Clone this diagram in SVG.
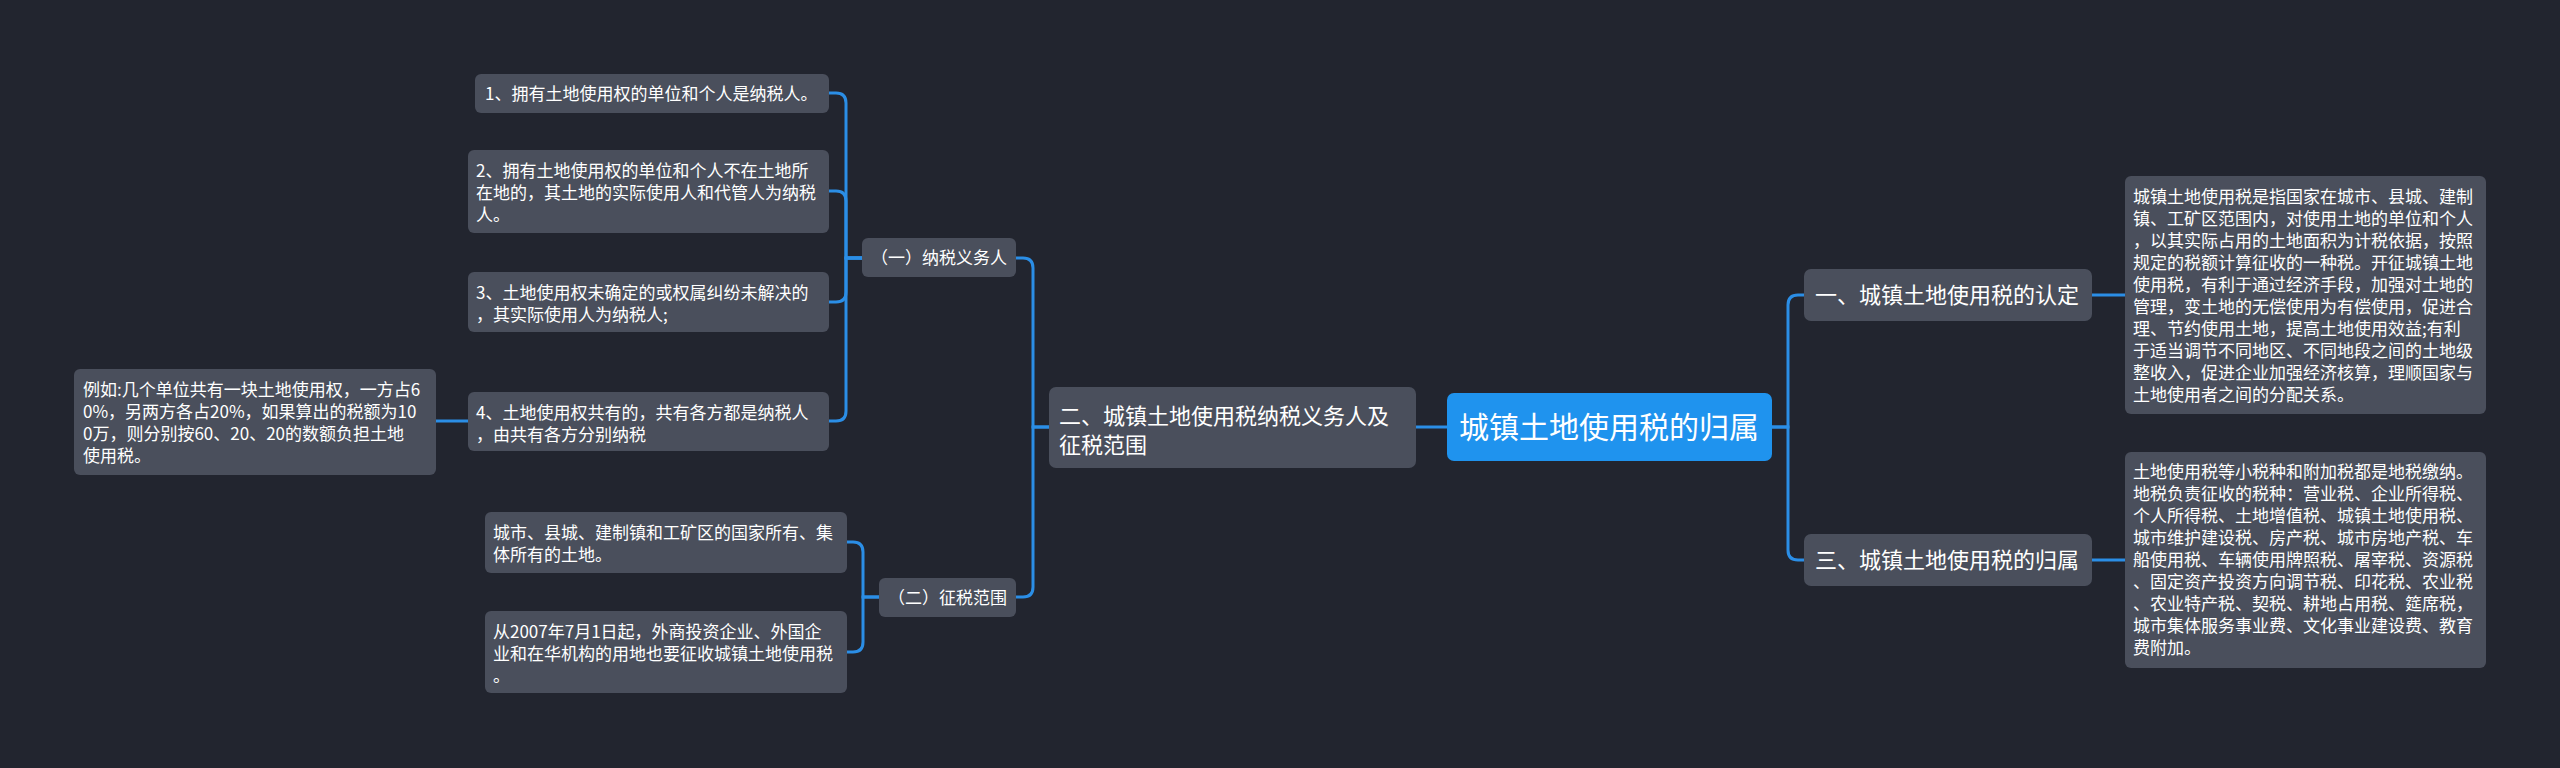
<svg xmlns="http://www.w3.org/2000/svg" width="2560" height="768" viewBox="0 0 2560 768">
<style>
.bg{fill:#22252f}
.n rect{fill:#4a4f5c}
.n text{fill:#ffffff;font-family:"Noto Sans CJK SC","Noto Sans",sans-serif;font-size:17px}
.n text.m{font-size:22px}
.r rect{fill:#1f93ee}
.r text{fill:#ffffff;font-family:"Noto Sans CJK SC","Noto Sans",sans-serif;font-size:30px}
.c path{fill:none;stroke:#2b8ee6;stroke-width:3;stroke-linecap:round}
</style>
<rect class="bg" x="0" y="0" width="2560" height="768"/>
<g class="c" id="connectors">
<path d="M862,258 H846 V103 Q846,93 836,93 H829"/>
<path d="M862,258 H846 V201 Q846,191 836,191 H829"/>
<path d="M862,258 H846 V292 Q846,302 836,302 H829"/>
<path d="M862,258 H846 V411 Q846,421 836,421 H829"/>
<path d="M468,421 H436"/>
<path d="M879,597 H863 V552 Q863,542 853,542 H847"/>
<path d="M879,597 H863 V642 Q863,652 853,652 H847"/>
<path d="M1049,427 H1033 V268 Q1033,258 1023,258 H1016"/>
<path d="M1049,427 H1033 V587 Q1033,597 1023,597 H1016"/>
<path d="M1447,427 H1416"/>
<path d="M1772,427 H1788 V305 Q1788,295 1798,295 H1804"/>
<path d="M1772,427 H1788 V550 Q1788,560 1798,560 H1804"/>
<path d="M2092,295 H2125"/>
<path d="M2092,560 H2125"/>
</g>
<g class="r" id="root">
<rect x="1447" y="393" width="325" height="68" rx="7"/>
<text x="1609" y="438" text-anchor="middle">城镇土地使用税的归属</text>
</g>
<g class="n" id="main2">
<rect x="1049" y="387" width="367" height="81" rx="7"/>
<text class="m" x="1059"><tspan x="1059" y="424">二、城镇土地使用税纳税义务人及</tspan><tspan x="1059" y="453">征税范围</tspan></text>
</g>
<g class="n" id="main1">
<rect x="1804" y="269" width="288" height="52" rx="7"/>
<text class="m" x="1815" y="303">一、城镇土地使用税的认定</text>
</g>
<g class="n" id="main3">
<rect x="1804" y="534" width="288" height="52" rx="7"/>
<text class="m" x="1815" y="568">三、城镇土地使用税的归属</text>
</g>
<g class="n" id="group1">
<rect x="862" y="238" width="154" height="39" rx="6"/>
<text x="871" y="264">（一）纳税义务人</text>
</g>
<g class="n" id="group2">
<rect x="879" y="578" width="137" height="39" rx="6"/>
<text x="888" y="604">（二）征税范围</text>
</g>
<g class="n" id="leaf1">
<rect x="475" y="74" width="354" height="39" rx="6"/>
<text x="485" y="100">1、拥有土地使用权的单位和个人是纳税人。</text>
</g>
<g class="n" id="leaf2">
<rect x="468" y="150" width="361" height="83" rx="6"/>
<text><tspan x="476" y="177">2、拥有土地使用权的单位和个人不在土地所</tspan><tspan x="476" y="199">在地的，其土地的实际使用人和代管人为纳税</tspan><tspan x="476" y="221">人。</tspan></text>
</g>
<g class="n" id="leaf3">
<rect x="468" y="272" width="361" height="60" rx="6"/>
<text><tspan x="476" y="299">3、土地使用权未确定的或权属纠纷未解决的</tspan><tspan x="476" y="321">，其实际使用人为纳税人;</tspan></text>
</g>
<g class="n" id="leaf4">
<rect x="468" y="392" width="361" height="59" rx="6"/>
<text><tspan x="476" y="419">4、土地使用权共有的，共有各方都是纳税人</tspan><tspan x="476" y="441">，由共有各方分别纳税</tspan></text>
</g>
<g class="n" id="example">
<rect x="74" y="369" width="362" height="106" rx="6"/>
<text><tspan x="83" y="396">例如:几个单位共有一块土地使用权，一方占6</tspan><tspan x="83" y="418">0%，另两方各占20%，如果算出的税额为10</tspan><tspan x="83" y="440">0万，则分别按60、20、20的数额负担土地</tspan><tspan x="83" y="462">使用税。</tspan></text>
</g>
<g class="n" id="scopeA">
<rect x="485" y="512" width="362" height="61" rx="6"/>
<text><tspan x="493" y="539">城市、县城、建制镇和工矿区的国家所有、集</tspan><tspan x="493" y="561">体所有的土地。</tspan></text>
</g>
<g class="n" id="scopeB">
<rect x="485" y="611" width="362" height="82" rx="6"/>
<text><tspan x="493" y="638">从2007年7月1日起，外商投资企业、外国企</tspan><tspan x="493" y="660">业和在华机构的用地也要征收城镇土地使用税</tspan><tspan x="493" y="682">。</tspan></text>
</g>
<g class="n" id="detail1">
<rect x="2125" y="176" width="361" height="238" rx="6"/>
<text><tspan x="2133" y="203">城镇土地使用税是指国家在城市、县城、建制</tspan><tspan x="2133" y="225">镇、工矿区范围内，对使用土地的单位和个人</tspan><tspan x="2133" y="247">，以其实际占用的土地面积为计税依据，按照</tspan><tspan x="2133" y="269">规定的税额计算征收的一种税。开征城镇土地</tspan><tspan x="2133" y="291">使用税，有利于通过经济手段，加强对土地的</tspan><tspan x="2133" y="313">管理，变土地的无偿使用为有偿使用，促进合</tspan><tspan x="2133" y="335">理、节约使用土地，提高土地使用效益;有利</tspan><tspan x="2133" y="357">于适当调节不同地区、不同地段之间的土地级</tspan><tspan x="2133" y="379">整收入，促进企业加强经济核算，理顺国家与</tspan><tspan x="2133" y="401">土地使用者之间的分配关系。</tspan></text>
</g>
<g class="n" id="detail3">
<rect x="2125" y="452" width="361" height="216" rx="6"/>
<text><tspan x="2133" y="478">土地使用税等小税种和附加税都是地税缴纳。</tspan><tspan x="2133" y="500">地税负责征收的税种：营业税、企业所得税、</tspan><tspan x="2133" y="522">个人所得税、土地增值税、城镇土地使用税、</tspan><tspan x="2133" y="544">城市维护建设税、房产税、城市房地产税、车</tspan><tspan x="2133" y="566">船使用税、车辆使用牌照税、屠宰税、资源税</tspan><tspan x="2133" y="588">、固定资产投资方向调节税、印花税、农业税</tspan><tspan x="2133" y="610">、农业特产税、契税、耕地占用税、筵席税，</tspan><tspan x="2133" y="632">城市集体服务事业费、文化事业建设费、教育</tspan><tspan x="2133" y="654">费附加。</tspan></text>
</g>
</svg>
